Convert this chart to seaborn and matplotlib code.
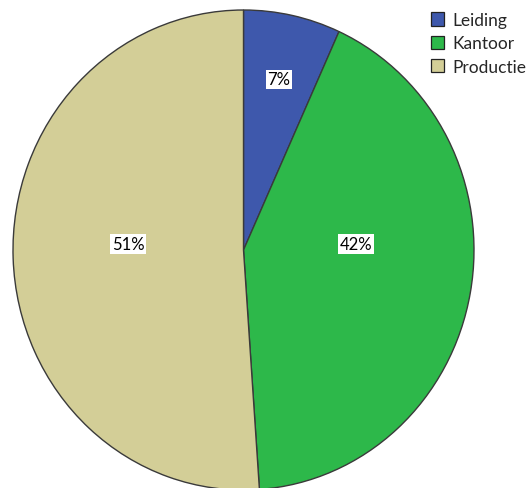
import numpy as np
import matplotlib
matplotlib.use("Agg")
import matplotlib.pyplot as plt
import seaborn as sns

# data
categories = ["Leiding", "Kantoor", "Productie"]
shares = [6.8, 42.1, 51.1]
pct_labels = ["7%", "42%", "51%"]

colors = ["#3E58AC", "#2DB84A", "#D3CE97"]

sns.set_style("white")
plt.rcParams["font.family"] = ["Lato", "DejaVu Sans"]

fig = plt.figure(figsize=(5.27, 4.89), dpi=100)
# the pie in the original is a slightly tall ellipse
ax = fig.add_axes([13 / 527, -2 / 489, 461 / 527, 480 / 489])

wedges, _ = ax.pie(
    shares,
    colors=colors,
    startangle=90,
    counterclock=False,
    radius=1.0,
    wedgeprops=dict(edgecolor="#3a3a3a", linewidth=1.0),
)
ax.set_xlim(-1, 1)
ax.set_ylim(-1, 1)
ax.set_aspect("auto")
ax.axis("off")

# percentage labels with white box (placement as in the original)
label_pos = [(0.154, 0.711), (0.49, 0.025), (-0.50, 0.025)]
for (x, y), lab in zip(label_pos, pct_labels):
    ax.text(x, y, lab, ha="center", va="center", fontsize=12, color="black",
            bbox=dict(facecolor="white", edgecolor="none", pad=1.2))

handles = [plt.Rectangle((0, 0), 1, 1, facecolor=c, edgecolor="#222222", linewidth=0.9)
           for c in colors]
fig.legend(handles, categories, loc="upper left", bbox_to_anchor=(431 / 527, 1 - 13 / 489),
           frameon=False, fontsize=12.5, handlelength=0.75, handleheight=0.8,
           handletextpad=0.5, labelspacing=0.42, borderaxespad=0, borderpad=0)

fig.savefig("out.png", dpi=100)
